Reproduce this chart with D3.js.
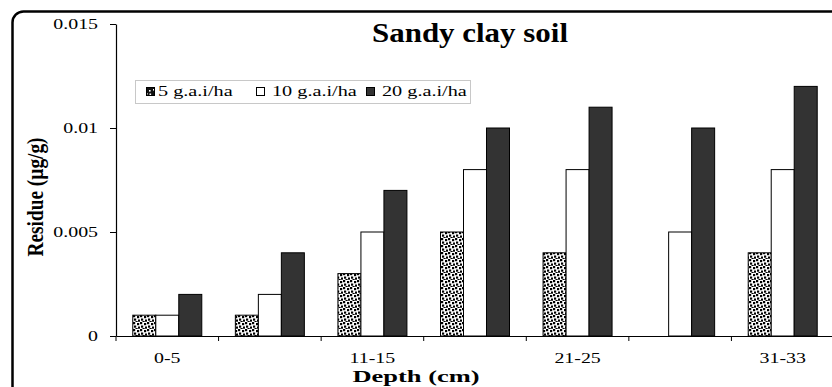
<!DOCTYPE html>
<html>
<head>
<meta charset="utf-8">
<script src="https://cdn.jsdelivr.net/npm/d3@7"></script>
<style>
  html, body { margin: 0; padding: 0; background: #fff; }
  svg { display: block; }
  text { font-family: "Liberation Serif", "Times New Roman", serif; fill: #000; }
</style>
</head>
<body>
<div id="chart"></div>
<script>
// ---- data ----
const categories = ["0-5", "6-10", "11-15", "16-20", "21-25", "26-30", "31-33"];
const shownLabels = ["0-5", "11-15", "21-25", "31-33"];
const seriesNames = ["5 g.a.i/ha", "10 g.a.i/ha", "20 g.a.i/ha"];
const s5  = [0.001, 0.001, 0.003, 0.005, 0.004, 0,     0.004];
const s10 = [0.001, 0.002, 0.005, 0.008, 0.008, 0.005, 0.008];
const s20 = [0.002, 0.004, 0.007, 0.010, 0.011, 0.010, 0.012];
const yTicks = [0, 0.005, 0.01, 0.015];
const yTickLabels = ["0", "0.005", "0.01", "0.015"];
const titleText = "Sandy clay soil";
const xTitle = "Depth (cm)";
const yTitle = "Residue (µg/g)";

const W = 832, H = 387;
const svg = d3.select("#chart").append("svg").attr("width", W).attr("height", H);

// patterns (confetti-like dots)
const defs = svg.append("defs");
const pat = defs.append("pattern").attr("id", "dots").attr("patternUnits", "userSpaceOnUse")
  .attr("width", 7).attr("height", 7);
pat.append("rect").attr("width", 7).attr("height", 7).attr("fill", "#fff");
[[0,0],[4,1],[1,3.5],[5,4.5],[2.5,6]].forEach(([a,b]) =>
  pat.append("rect").attr("x", a).attr("y", b).attr("width", 2.2).attr("height", 2.2).attr("fill", "#000"));
const pat2 = defs.append("pattern").attr("id", "dotsLegend").attr("patternUnits", "userSpaceOnUse")
  .attr("width", 8).attr("height", 8);
pat2.append("rect").attr("width", 8).attr("height", 8).attr("fill", "#111");
[[1,1],[5,2],[2,5],[5.5,5.5]].forEach(([a,b]) =>
  pat2.append("rect").attr("x", a).attr("y", b).attr("width", 1.6).attr("height", 1.6).attr("fill", "#fff"));

// frame
svg.append("rect").attr("x", 12.5).attr("y", 11.5).attr("width", 840).attr("height", 400)
  .attr("rx", 11).attr("fill", "none").attr("stroke", "#000").attr("stroke-width", 2.5);

const plot = { left: 116, right: 834, top: 24, bottom: 336 };
const x0 = d3.scaleBand().domain(categories).range([plot.left, plot.right]).padding(0);
const x1 = d3.scaleBand().domain(seriesNames).range([0, x0.bandwidth()]).paddingInner(0).paddingOuter(0.73);
const y = d3.scaleLinear().domain([0, 0.015]).range([plot.bottom, plot.top]);

const fills = ["url(#dots)", "#ffffff", "#333333"];
const legendFills = ["url(#dotsLegend)", "#ffffff", "#333333"];
const seriesData = [s5, s10, s20];

// bars
seriesData.forEach((vals, si) => {
  const data = vals.map((v, i) => ({ c: categories[i], v }));
  svg.append("g").selectAll("rect").data(data.filter(d => d.v > 0)).join("rect")
    .attr("x", d => x0(d.c) + x1(seriesNames[si]))
    .attr("y", d => y(d.v))
    .attr("width", x1.bandwidth())
    .attr("height", d => y(0) - y(d.v))
    .attr("fill", fills[si])
    .attr("stroke", "#000")
    .attr("stroke-width", 1);
});

const SX = 1.42;

// y axis
const yAxis = d3.axisLeft(y).tickValues(yTicks).tickFormat((d, i) => yTickLabels[i])
  .tickSize(6).tickSizeOuter(0).tickPadding(12);
const gy = svg.append("g").attr("transform", `translate(${plot.left},0)`).call(yAxis);
gy.select(".domain").attr("stroke", "#000").attr("stroke-width", 1.2);
gy.selectAll(".tick line").attr("stroke", "#000");
gy.selectAll(".tick text").attr("font-size", 14)
  .attr("font-family", "Liberation Serif, serif")
  .attr("x", -18 / SX)
  .attr("transform", `scale(${SX},1)`);

// x axis
const xAxis = d3.axisBottom(x0).tickSize(0).tickSizeOuter(0)
  .tickFormat(d => shownLabels.includes(d) ? d : "").tickPadding(0);
const gx = svg.append("g").attr("transform", `translate(0,${plot.bottom})`).call(xAxis);
gx.select(".domain").attr("stroke", "#000").attr("stroke-width", 1.2);
gx.selectAll(".tick text").attr("font-size", 14)
  .attr("font-family", "Liberation Serif, serif")
  .attr("dy", 0).attr("y", 27)
  .attr("text-anchor", "middle")
  .attr("transform", `scale(${SX},1)`);

// boundary ticks between categories
svg.append("g").selectAll("line").data(categories).join("line")
  .attr("x1", d => x0(d)).attr("x2", d => x0(d))
  .attr("y1", plot.bottom).attr("y2", plot.bottom + 5)
  .attr("stroke", "#000");

// title
svg.append("text").attr("x", 470).attr("y", 42).attr("text-anchor", "middle")
  .attr("font-size", 27).attr("font-weight", "bold").attr("textLength", 196)
  .attr("lengthAdjust", "spacingAndGlyphs").text(titleText);

// x title
svg.append("text").attr("x", 416).attr("y", 382).attr("text-anchor", "middle")
  .attr("font-size", 17).attr("font-weight", "bold").attr("textLength", 127)
  .attr("lengthAdjust", "spacingAndGlyphs").text(xTitle);

// y title
svg.append("text").attr("transform", "translate(43,197) rotate(-90) scale(1,1.4)")
  .attr("text-anchor", "middle").attr("font-size", 17).attr("font-weight", "bold")
  .attr("textLength", 119).attr("lengthAdjust", "spacingAndGlyphs").text(yTitle);

// legend
const lg = svg.append("g");
lg.append("rect").attr("x", 135.5).attr("y", 80.5).attr("width", 335).attr("height", 23)
  .attr("fill", "#fff").attr("stroke", "#c8c8c8");
seriesNames.forEach((name, i) => {
  const sx = 146 + i * 110;
  lg.append("rect").attr("x", sx + 0.5).attr("y", 87.5).attr("width", 8).attr("height", 8)
    .attr("fill", legendFills[i]).attr("stroke", "#000");
  lg.append("text").attr("transform", `translate(${sx + 12 + (i > 0 ? 4 : 0)},96) scale(1.35,1)`)
    .attr("font-size", 15).text(name);
});
</script>
</body>
</html>
